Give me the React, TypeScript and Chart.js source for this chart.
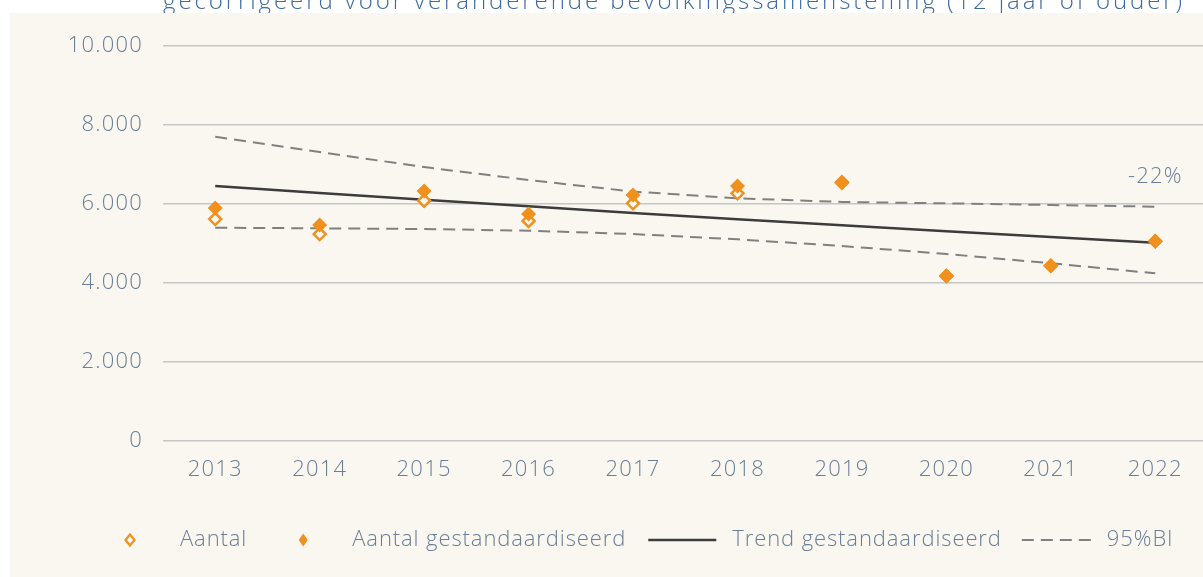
import React, { useEffect, useRef } from "react";
import { Chart, registerables } from "chart.js";

Chart.register(...registerables);

// ---- data ----
const years = ["2013", "2014", "2015", "2016", "2017", "2018", "2019", "2020", "2021", "2022"];
const aantal = [5620, 5240, 6084, 5570, 6017, 6270, 6540, 4177, 4438, 5056];
const aantalGestandaardiseerd = [5899, 5468, 6329, 5747, 6228, 6456, 6560, 4177, 4438, 5056];
const trendGestandaardiseerd = [6456, 6280, 6110, 5940, 5775, 5615, 5460, 5310, 5165, 5020];
const ciUpper = [7700, 7316, 6934, 6608, 6314, 6144, 6051, 6017, 5975, 5932];
const ciLower = [5400, 5384, 5367, 5324, 5240, 5105, 4937, 4734, 4499, 4245];
const yTickValues = [0, 2000, 4000, 6000, 8000, 10000];
const titleText = "gecorrigeerd voor veranderende bevolkingssamenstelling (12 jaar of ouder)";
const changeText = "-22%";
const legendLabels = ["Aantal", "Aantal gestandaardiseerd", "Trend gestandaardiseerd", "95%BI"];

// ---- styles ----
const ORANGE = "#f0901e";
const CREAM = "#faf7f0";
const TEXT = "#687f97";
const TITLE = "#3f6b9d";
const TREND = "#3c3c3c";
const DASH = "#808080";
const FONT = "'Open Sans', 'DejaVu Sans', sans-serif";
const SPACING = "1.2px";
const LEGEND_SPACING = "0.9px";
const FONT_SIZE = 22;

function fmt(v: number): string {
  return String(v).replace(/\B(?=(\d{3})+(?!\d))/g, ".");
}

function diamond(ctx: CanvasRenderingContext2D, x: number, y: number, hw: number, hh: number) {
  ctx.beginPath();
  ctx.moveTo(x, y - hh);
  ctx.lineTo(x + hw, y);
  ctx.lineTo(x, y + hh);
  ctx.lineTo(x - hw, y);
  ctx.closePath();
}

const decorPlugin = {
  id: "decor",
  beforeLayout(chart: any) {
    chart.ctx.letterSpacing = SPACING;
  },
  beforeDraw(chart: any) {
    const ctx = chart.ctx as CanvasRenderingContext2D;
    ctx.save();
    ctx.fillStyle = "#ffffff";
    ctx.fillRect(0, 0, chart.width, chart.height);
    // title (cut off at the top and bottom, as in the reference)
    ctx.font = `300 24px ${FONT}`;
    (ctx as any).letterSpacing = "0px";
    const w0 = ctx.measureText(titleText).width;
    const targetWidth = 1022;
    (ctx as any).letterSpacing = `${(targetWidth - w0) / titleText.length}px`;
    ctx.fillStyle = TITLE;
    ctx.textAlign = "left";
    ctx.textBaseline = "alphabetic";
    ctx.fillText(titleText, chart.chartArea.left, 9);
    ctx.fillStyle = CREAM;
    ctx.fillRect(10, 13, chart.width - 10, chart.height - 13);
    ctx.restore();
    (ctx as any).letterSpacing = SPACING;
  },
  afterDraw(chart: any) {
    const ctx = chart.ctx as CanvasRenderingContext2D;
    const xs = chart.scales.x;
    const ys = chart.scales.y;
    ctx.save();
    (ctx as any).letterSpacing = SPACING;
    ctx.font = `300 ${FONT_SIZE}px ${FONT}`;
    ctx.fillStyle = TEXT;
    ctx.textBaseline = "middle";

    // change label above last upper-CI point
    const last = years.length - 1;
    ctx.textAlign = "center";
    ctx.fillText(changeText, xs.getPixelForValue(last), ys.getPixelForValue(ciUpper[last]) - 30);

    // legend
    (ctx as any).letterSpacing = LEGEND_SPACING;
    const ly = 540;
    let x = 124;
    ctx.textAlign = "left";
    // item 1: hollow diamond
    diamond(ctx, x + 6, ly, 4.5, 5.5);
    ctx.fillStyle = CREAM;
    ctx.fill();
    ctx.lineWidth = 2.2;
    ctx.strokeStyle = ORANGE;
    ctx.stroke();
    ctx.fillStyle = TEXT;
    ctx.fillText(legendLabels[0], x + 56, ly);
    x = x + 56 + ctx.measureText(legendLabels[0]).width + 51;
    // item 2: filled diamond
    diamond(ctx, x + 5, ly, 4.5, 6.5);
    ctx.fillStyle = ORANGE;
    ctx.fill();
    ctx.fillStyle = TEXT;
    ctx.fillText(legendLabels[1], x + 54, ly);
    x = x + 54 + ctx.measureText(legendLabels[1]).width + 22;
    // item 3: solid line
    ctx.beginPath();
    ctx.moveTo(x, ly);
    ctx.lineTo(x + 68, ly);
    ctx.lineWidth = 2.5;
    ctx.strokeStyle = TREND;
    ctx.setLineDash([]);
    ctx.stroke();
    ctx.fillText(legendLabels[2], x + 84, ly);
    x = x + 84 + ctx.measureText(legendLabels[2]).width + 20;
    // item 4: dashed line
    ctx.beginPath();
    ctx.moveTo(x, ly);
    ctx.lineTo(x + 70, ly);
    ctx.lineWidth = 2;
    ctx.strokeStyle = DASH;
    ctx.setLineDash([12, 7]);
    ctx.stroke();
    ctx.setLineDash([]);
    ctx.fillText(legendLabels[3], x + 85, ly);
    ctx.restore();
  },
};

export default function App() {
  const ref = useRef<HTMLCanvasElement>(null);
  useEffect(() => {
    const canvas = ref.current!;
    const chart = new Chart(canvas, {
      type: "line",
      data: {
        labels: years,
        datasets: [
          {
            label: legendLabels[1],
            data: aantalGestandaardiseerd,
            showLine: false,
            pointStyle: "rectRot",
            pointRadius: 7.5,
            pointBackgroundColor: ORANGE,
            pointBorderColor: ORANGE,
            pointBorderWidth: 0,
            order: 0,
          },
          {
            label: legendLabels[0],
            data: aantal,
            showLine: false,
            pointStyle: "rectRot",
            pointRadius: 6,
            pointBackgroundColor: CREAM,
            pointBorderColor: ORANGE,
            pointBorderWidth: 2.5,
            order: 1,
          },
          {
            label: legendLabels[2],
            data: trendGestandaardiseerd,
            borderColor: TREND,
            borderWidth: 2.5,
            pointRadius: 0,
            order: 2,
          },
          {
            label: legendLabels[3],
            data: ciUpper,
            borderColor: DASH,
            borderWidth: 2,
            borderDash: [12, 7],
            pointRadius: 0,
            order: 3,
          },
          {
            label: legendLabels[3] + " (onder)",
            data: ciLower,
            borderColor: DASH,
            borderWidth: 2,
            borderDash: [12, 7],
            pointRadius: 0,
            order: 4,
          },
        ],
      },
      options: {
        animation: false,
        responsive: false,
        maintainAspectRatio: false,
        layout: { padding: { top: 46, left: 0, right: 0, bottom: 0 } },
        plugins: {
          legend: { display: false },
          tooltip: { enabled: false },
          title: { display: false },
        },
        scales: {
          x: {
            type: "category",
            offset: true,
            grid: { display: false, drawTicks: false },
            border: { display: false },
            ticks: { padding: 16, color: TEXT, font: { family: FONT, size: FONT_SIZE, weight: "300" } },
            afterFit: (s: any) => {
              s.height = 136;
            },
          },
          y: {
            min: 0,
            max: 10000,
            afterBuildTicks: (s: any) => {
              s.ticks = yTickValues.map((v) => ({ value: v }));
            },
            ticks: {
              padding: 20,
              color: TEXT,
              font: { family: FONT, size: FONT_SIZE, weight: "300" },
              callback: (v: any) => fmt(Number(v)),
            },
            grid: { color: "#c6c6c6", lineWidth: 1.5, drawTicks: false },
            border: { display: false },
            afterFit: (s: any) => {
              s.width = 163;
            },
          },
        },
      },
      plugins: [decorPlugin as any],
    });
    return () => chart.destroy();
  }, []);
  return (
    <div
      style={{
        position: "fixed",
        left: 0,
        top: 0,
        width: 1203,
        height: 577,
        overflow: "hidden",
        background: "#ffffff",
      }}
    >
      <canvas ref={ref} width={1216} height={577} style={{ display: "block", width: 1216, height: 577 }} />
    </div>
  );
}
